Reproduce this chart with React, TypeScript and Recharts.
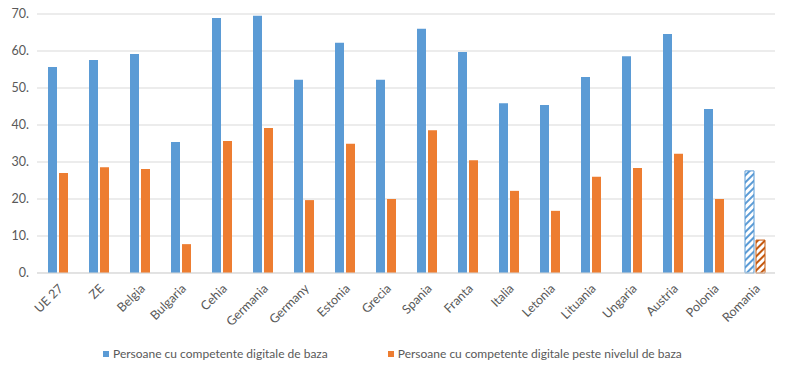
import { Bar, BarChart, CartesianGrid, Cell, XAxis, YAxis } from "recharts";

const countries = [
  "UE 27", "ZE", "Belgia", "Bulgaria", "Cehia", "Germania", "Germany", "Estonia", "Grecia",
  "Spania", "Franta", "Italia", "Letonia", "Lituania", "Ungaria", "Austria", "Polonia", "Romania",
];
const basic = [55.7, 57.6, 59.2, 35.4, 68.9, 69.5, 52.2, 62.2, 52.2, 66.0, 59.7, 45.9, 45.4, 53.0, 58.6, 64.6, 44.3, 27.6];
const aboveBasic = [27.0, 28.6, 28.1, 7.8, 35.7, 39.2, 19.7, 34.9, 20.0, 38.6, 30.5, 22.2, 16.8, 26.0, 28.4, 32.2, 20.0, 8.9];
const yTicks = [0, 10, 20, 30, 40, 50, 60, 70];
const seriesNames = [
  "Persoane cu competente digitale de baza",
  "Persoane cu competente digitale peste nivelul de baza",
];

const BLUE = "#5B9BD5";
const ORANGE = "#ED7D31";
const TEXT = "#595959";
const FONT = "Lato, 'Open Sans', sans-serif";

const data = countries.map((name, i) => ({ name, basic: basic[i], above: aboveBasic[i] }));

const isHatched = (name: string) => name === "Romania";

export default function App() {
  return (
    <div style={{ position: "absolute", left: 0, top: 0, width: 800, height: 376, background: "#fff", fontFamily: FONT }}>
      <svg width={0} height={0} style={{ position: "absolute" }}>
        <defs>
          <pattern id="hatchBlue" patternUnits="userSpaceOnUse" width={5} height={5} patternTransform="rotate(45)">
            <rect width={5} height={5} fill="#fff" />
            <rect width={2} height={5} fill={BLUE} />
          </pattern>
          <pattern id="hatchOrange" patternUnits="userSpaceOnUse" width={5} height={5} patternTransform="rotate(45)">
            <rect width={5} height={5} fill="#fff" />
            <rect width={2} height={5} fill="#C55A11" />
          </pattern>
        </defs>
      </svg>
      <BarChart
        width={800}
        height={340}
        data={data}
        margin={{ top: 14, right: 25, bottom: 0, left: 0 }}
        barSize={9}
        barGap={2}
      >
        <CartesianGrid stroke="#D9D9D9" vertical={false} />
        <XAxis
          dataKey="name"
          interval={0}
          height={67}
          axisLine={{ stroke: "#D9D9D9" }}
          tickLine={false}
          angle={-45}
          textAnchor="end"
          dy={2}
          tick={{ fill: TEXT, fontSize: 12.5, fontFamily: FONT }}
        />
        <YAxis
          width={37}
          domain={[0, 70]}
          ticks={yTicks}
          axisLine={false}
          tickLine={false}
          tickFormatter={(v) => `${v}.`}
          tick={{ fill: TEXT, fontSize: 12.5, fontFamily: FONT }}
        />
        <Bar dataKey="basic" fill={BLUE} isAnimationActive={false}>
          {data.map((d) => (
            <Cell
              key={d.name}
              fill={isHatched(d.name) ? "url(#hatchBlue)" : BLUE}
              stroke={isHatched(d.name) ? BLUE : "none"}
            />
          ))}
        </Bar>
        <Bar dataKey="above" fill={ORANGE} isAnimationActive={false}>
          {data.map((d) => (
            <Cell
              key={d.name}
              fill={isHatched(d.name) ? "url(#hatchOrange)" : ORANGE}
              stroke={isHatched(d.name) ? "#C55A11" : "none"}
            />
          ))}
        </Bar>
      </BarChart>
      <div style={{ position: "absolute", top: 346, left: 103, display: "flex", fontSize: 12, color: TEXT }}>
        {seriesNames.map((s, i) => (
          <div key={s} style={{ display: "flex", alignItems: "center", marginRight: 60 }}>
            <span style={{ width: 6, height: 6, background: i === 0 ? BLUE : ORANGE, marginRight: 4 }} />
            {s}
          </div>
        ))}
      </div>
    </div>
  );
}
